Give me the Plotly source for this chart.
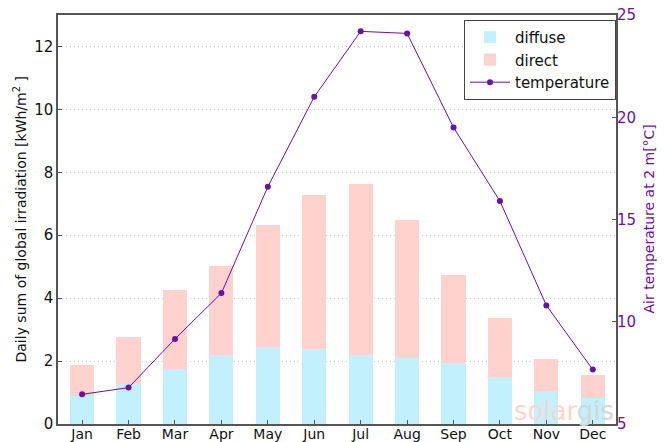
import plotly.graph_objects as go

months = ["Jan", "Feb", "Mar", "Apr", "May", "Jun", "Jul", "Aug", "Sep", "Oct", "Nov", "Dec"]
diffuse = [0.90, 1.26, 1.74, 2.18, 2.46, 2.39, 2.20, 2.11, 1.93, 1.50, 1.05, 0.84]
total = [1.88, 2.77, 4.27, 5.03, 6.34, 7.29, 7.64, 6.50, 4.75, 3.38, 2.06, 1.55]
direct = [round(t - d, 2) for t, d in zip(total, diffuse)]
temperature = [6.45, 6.78, 9.16, 11.4, 16.6, 21.0, 24.2, 24.1, 19.5, 15.9, 10.8, 7.66]

PURPLE = "#6a10a8"
FONT = "DejaVu Sans"

fig = go.Figure()
fig.add_trace(go.Bar(x=months, y=diffuse, name="diffuse", marker=dict(color="#c2f0fc", line=dict(width=0)), width=0.52))
fig.add_trace(go.Bar(x=months, y=direct, name="direct", marker=dict(color="#ffd2ce", line=dict(width=0)), width=0.52))
fig.add_trace(go.Scatter(x=months, y=temperature, name="temperature", yaxis="y2", mode="lines+markers",
                         line=dict(color=PURPLE, width=1), marker=dict(color=PURPLE, size=6)))

# page body has an 8px margin, so the figure is offset by (8, 8)
fig.update_layout(
    width=657, height=434,
    margin=dict(l=50, r=49, t=7, b=18, autoexpand=False),
    paper_bgcolor="white", plot_bgcolor="white",
    barmode="stack",
    font=dict(family=FONT, size=14, color="#111"),
    showlegend=True,
    legend=dict(x=1.0, xanchor="right", y=0.988, yanchor="top", bordercolor="#444", borderwidth=1,
                bgcolor="white", font=dict(size=15), traceorder="normal", itemwidth=40,
                tracegroupgap=0),
    xaxis=dict(range=[-0.52, 11.5], showline=True, mirror=True, linecolor="#555", linewidth=1.5,
               ticks="inside", ticklen=4, tickcolor="#555", showgrid=False, tickfont=dict(size=14),
               automargin=False, ticklabelstandoff=-4, ticklabeloverflow="allow"),
    yaxis=dict(range=[0, 13], tickvals=[0, 2, 4, 6, 8, 10, 12], showline=True, mirror=True, linecolor="#555",
               linewidth=1.5, ticks="inside", ticklen=4, tickcolor="#555", showgrid=True, gridcolor="#c8c8c8",
               griddash="1px,3px", gridwidth=1, zeroline=False, tickfont=dict(size=15), automargin=False,
               ticklabeloverflow="allow"),
    yaxis2=dict(range=[5, 25], tickvals=[5, 10, 15, 20, 25], overlaying="y", side="right", showgrid=False,
                zeroline=False, ticks="inside", ticklen=4, tickcolor="#555", tickfont=dict(size=15, color=PURPLE),
                automargin=False, ticklabeloverflow="allow"),
    annotations=[
        dict(text='<span style="color:#fcd6ce">solar</span><span style="color:#d6d6d6">gis</span>',
             x=(616 - 58) / 558, xanchor="right", y=0.032, yanchor="middle", xref="paper", yref="paper",
             showarrow=False, font=dict(size=26, family="DejaVu Sans")),
        dict(text="Daily sum of global irradiation [kWh/m<sup>2</sup> ]", textangle=-90,
             x=(20 - 58) / 558, xanchor="center", xref="paper", y=0.5, yref="paper", showarrow=False,
             font=dict(size=14, color="#111")),
        dict(text="Air temperature at 2 m[°C]", textangle=-90,
             x=(648 - 58) / 558, xanchor="center", xref="paper", y=0.5, yref="paper", showarrow=False,
             font=dict(size=14, color=PURPLE)),
    ],
)

fig.write_html("out.html")
